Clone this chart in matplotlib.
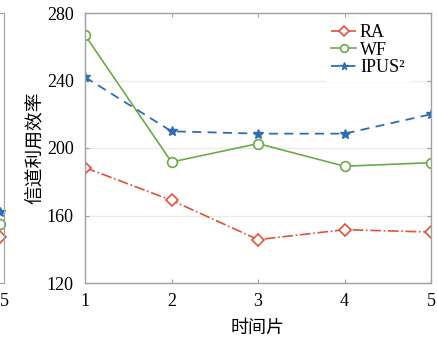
import matplotlib
matplotlib.use("Agg")
import matplotlib.pyplot as plt

# data
slots = [1, 2, 3, 4, 5]
ra = [188.4, 169.0, 145.7, 151.6, 150.2]
wf = [266.9, 191.7, 202.6, 189.2, 191.3]
ipus = [242.0, 209.9, 208.5, 208.5, 220.0]
yticks = [120, 160, 200, 240, 280]

# right end of the neighbouring panel that is cut off on the left
nb_x = [4.94]
nb_ra = [147.1]
nb_wf = [154.8]
nb_ipus = [161.9]

c_ra = "#e0513a"
c_wf = "#6aab45"
c_ipus = "#2e6db4"
c_spine = "#a0a0a0"
serif = "Liberation Serif"
cjk = ["Noto Sans CJK SC", "DejaVu Sans"]

plt.rcParams["font.family"] = serif

fig = plt.figure(figsize=(4.37, 3.38), dpi=100)
ax = fig.add_axes([85 / 437, 1 - 283 / 338, 346 / 437, 270 / 338])

ax.plot(slots, ra, color=c_ra, linestyle="-.", linewidth=1.2, marker="D",
        markersize=6, markerfacecolor="white", markeredgewidth=1.2, label="RA")
ax.plot(slots, wf, color=c_wf, linestyle="-", linewidth=1.2, marker="o",
        markersize=7, markerfacecolor="white", markeredgewidth=1.2, label="WF")
ax.plot(slots, ipus, color=c_ipus, linestyle=(0, (5, 3.5)), linewidth=1.3,
        marker="*", markersize=7, label="IPUS²")

ax.set_xlim(1, 5)
ax.set_ylim(120, 280)
ax.set_xticks(slots)
ax.set_yticks(yticks)
ax.tick_params(direction="in", top=True, right=True, length=3, color=c_spine,
               labelsize=13)
ax.tick_params(axis="y", pad=8)
ax.tick_params(axis="x", pad=7)
for s in ax.spines.values():
    s.set_color(c_spine)
    s.set_linewidth(1.0)
ax.yaxis.grid(True, color="#ebebeb", linewidth=1.0)
ax.set_axisbelow(True)

ax.set_xlabel("时间片", fontfamily=cjk, fontsize=13, labelpad=7)
ax.set_ylabel("信道利用效率", fontfamily=cjk, fontsize=13.5, labelpad=1.5)

ax.legend(loc="upper right", bbox_to_anchor=(0.939, 0.978), fontsize=13,
          frameon=True, fancybox=False, edgecolor="white",
          facecolor="white", framealpha=1, handlelength=1.4,
          handletextpad=0.2, labelspacing=0.02, borderaxespad=0.0,
          borderpad=0.3, markerscale=0.8)

# sliver of the neighbouring panel
nb = fig.add_axes([-0.6, 1 - 283 / 338, 0.6 + 4 / 437, 270 / 338])
nb.plot(nb_x, nb_ra, color=c_ra, marker="D", markersize=6,
        markerfacecolor="white", markeredgewidth=1.2, clip_on=False)
nb.plot(nb_x, nb_wf, color=c_wf, marker="o", markersize=7,
        markerfacecolor="white", markeredgewidth=1.2, clip_on=False)
nb.plot(nb_x, nb_ipus, color=c_ipus, marker="*", markersize=7, clip_on=False)
nb.set_xlim(1, 5)
nb.set_ylim(120, 280)
nb.set_xticks([5])
nb.set_yticks([])
nb.tick_params(direction="in", length=0, labelsize=13, pad=7)
for s in nb.spines.values():
    s.set_color(c_spine)

fig.savefig("out.png", dpi=100)
